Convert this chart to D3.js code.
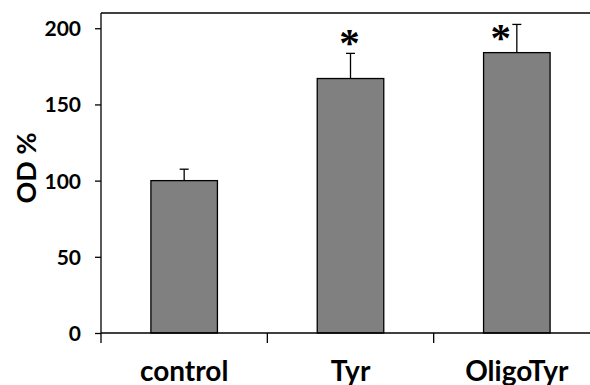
<!DOCTYPE html>
<html>
<head>
<meta charset="utf-8">
<script src="https://cdn.jsdelivr.net/npm/d3@7"></script>
<style>
  body { margin: 0; background: #fff; }
  svg { display: block; }
  text { font-family: Lato, "Open Sans", sans-serif; font-weight: bold; fill: #000; }
</style>
</head>
<body>
<svg id="chart" width="590" height="385"></svg>
<script>
// values
const categories = ['control', 'Tyr', 'OligoTyr'];
const means = [100, 167, 184];
const errors = [7.5, 16.5, 18.5];
const significant = [false, true, true];
const yTicks = [0, 50, 100, 150, 200];

const svg = d3.select('#chart');
const width = 590;
const plot_left = 101;
const plot_top = 13;
const plot_bottom = 333;

const y = d3.scaleLinear()
  .domain([0, 210])
  .range([plot_bottom, plot_top]);

// band edges are the x ticks; the last band runs past the right edge
const x = d3.scaleBand()
  .domain(categories)
  .range([plot_left, 600])
  .padding(0);

const bar_frac = 0.4;
const bar_w = x.bandwidth() * bar_frac;
const barX = d => x(d) + (x.bandwidth() - bar_w) / 2;
const midX = d => x(d) + x.bandwidth() / 2;

const data = categories.map((c, i) => ({
  key: c, value: means[i], err: errors[i], sig: significant[i]
}));

// frame top
svg.append('line')
  .attr('x1', plot_left).attr('x2', width)
  .attr('y1', plot_top).attr('y2', plot_top)
  .attr('stroke', '#000').attr('stroke-width', 1.3);

// BARS
svg.selectAll('.bar')
  .data(data)
  .enter()
  .append('rect')
  .classed('bar', true)
  .attr('x', d => barX(d.key))
  .attr('y', d => y(d.value))
  .attr('width', bar_w)
  .attr('height', d => y(0) - y(d.value))
  .attr('fill', '#808080')
  .attr('stroke', '#000')
  .attr('stroke-width', 1.3);

// error bars, upper half only
const err = svg.selectAll('.err')
  .data(data)
  .enter()
  .append('g')
  .classed('err', true);
err.append('line')
  .attr('x1', d => midX(d.key)).attr('x2', d => midX(d.key))
  .attr('y1', d => y(d.value)).attr('y2', d => y(d.value + d.err))
  .attr('stroke', '#000').attr('stroke-width', 1.3);
err.append('line')
  .attr('x1', d => midX(d.key) - 4.5).attr('x2', d => midX(d.key) + 4.5)
  .attr('y1', d => y(d.value + d.err)).attr('y2', d => y(d.value + d.err))
  .attr('stroke', '#000').attr('stroke-width', 1.3);

// asterisks: first above its error bar, second beside it
const star_dx = [-1, -16];
const star_dy = [3, 27]; // baseline, relative to the error cap
svg.selectAll('.star')
  .data(data.filter(d => d.sig))
  .enter()
  .append('text')
  .classed('star', true)
  .attr('x', (d, i) => midX(d.key) + star_dx[i])
  .attr('y', (d, i) => y(d.value + d.err) + star_dy[i])
  .attr('text-anchor', 'middle')
  .style('font-family', '"Liberation Serif", serif')
  .style('font-size', '41px')
  .text('*');

// AXES
const yAxis = svg.append('g')
  .attr('transform', `translate(${plot_left},0)`)
  .call(d3.axisLeft(y).tickValues(yTicks).tickSize(6).tickPadding(14));
yAxis.select('.domain')
  .attr('d', `M0,${plot_top}V${plot_bottom}`)
  .attr('stroke-width', 1.3);
yAxis.selectAll('.tick line').attr('stroke-width', 1.3);
yAxis.selectAll('.tick text')
  .style('font-family', 'Lato, sans-serif')
  .style('font-size', '21px')
  .style('font-weight', 'bold')
  .attr('dy', '0.36em');

const xAxis = svg.append('g')
  .attr('transform', `translate(0,${plot_bottom})`)
  .call(d3.axisBottom(x).tickSize(0).tickPadding(0));
xAxis.select('.domain')
  .attr('d', `M${plot_left},0H${width}`)
  .attr('stroke-width', 1.3);
xAxis.selectAll('.tick text')
  .attr('y', 48)
  .attr('dy', 0)
  .style('font-family', 'Lato, sans-serif')
  .style('font-size', '28px')
  .style('font-weight', 'bold');
// ticks on the band edges
xAxis.selectAll('.edge')
  .data(categories)
  .enter()
  .append('line')
  .classed('edge', true)
  .attr('x1', d => x(d)).attr('x2', d => x(d))
  .attr('y1', 0).attr('y2', 10)
  .attr('stroke', '#000').attr('stroke-width', 1.3);

svg.append('text')
  .attr('transform', `translate(36,168) rotate(-90)`)
  .attr('text-anchor', 'middle')
  .style('font-size', '27px')
  .text('OD %');
</script>
</body>
</html>
